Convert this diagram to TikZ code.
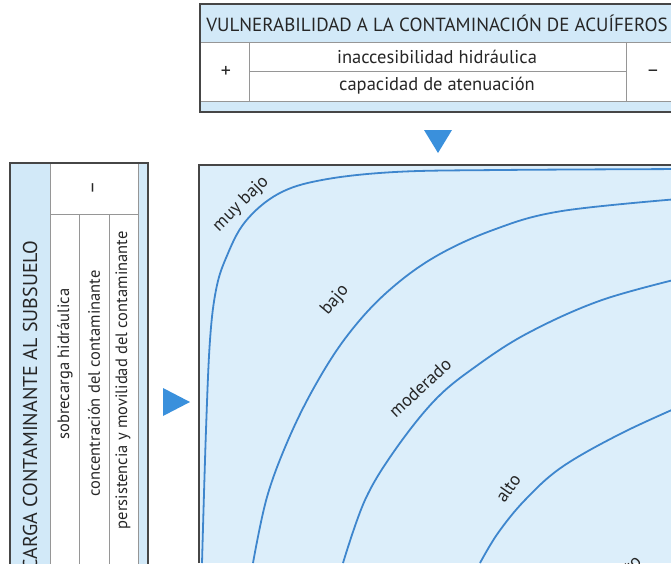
\documentclass[tikz,border=0pt]{standalone}
\usepackage{fontspec}
\setmainfont{PT Sans}
\usepackage{tikz}
\usepackage{xcolor}

\definecolor{fondo}{RGB}{220,238,250}
\definecolor{banda}{RGB}{210,233,248}
\definecolor{curva}{RGB}{62,134,205}
\definecolor{flecha}{RGB}{58,144,220}
\definecolor{borde}{RGB}{70,70,70}
\definecolor{linea}{RGB}{150,150,150}

\begin{document}
\begin{tikzpicture}[x=1pt,y=-1pt,
    marco/.style={draw=borde,line width=1.2pt},
    rejilla/.style={draw=linea,line width=0.8pt},
    iso/.style={draw=curva,line width=1.8pt},
    titulo/.style={font=\fontsize{19}{22}\selectfont,text=black!85},
    fila/.style={font=\fontsize{18.5}{22}\selectfont,text=black!85},
    columna/.style={font=\fontsize{16.5}{19}\selectfont,text=black!85,rotate=90,anchor=east},
    signo/.style={font=\fontsize{20}{22}\selectfont,text=black!85},
    rotulo/.style={font=\fontsize{18}{20}\selectfont,text=black!85,inner sep=1pt}]

	\useasboundingbox (0,0) rectangle (671,567);
	\clip (0,0) rectangle (671,563);

	% top table: vulnerability
	\fill[banda] (200,4) rectangle (690,42);
	\fill[banda] (200,101) rectangle (690,112);
	\draw[rejilla] (200,42) -- (690,42);
	\draw[rejilla] (200,101) -- (690,101);
	\draw[rejilla] (249,42) -- (249,101);
	\draw[rejilla] (626,42) -- (626,101);
	\draw[rejilla] (249,71) -- (626,71);
	\draw[marco] (690,4) -- (200,4) -- (200,112) -- (690,112);
	\node[titulo] (vuln) at (437,23) {VULNERABILIDAD A LA CONTAMINACIÓN DE ACUÍFEROS};
	\node[fila] (inacc) at (437,57) {inaccesibilidad hidráulica};
	\node[fila] (atenu) at (437,86) {capacidad de atenuación};
	\node[signo] (vmas) at (226,72) {+};
	\node[signo] (vmenos) at (653,73) {–};

	% arrow down
	\fill[flecha] (424,130) -- (452,130) -- (438,153) -- cycle;

	% left table: contaminant load
	\fill[banda] (10,163) rectangle (50,580);
	\fill[banda] (138,163) rectangle (148,580);
	\draw[rejilla] (50,163) -- (50,580);
	\draw[rejilla] (138,163) -- (138,580);
	\draw[rejilla] (50,214) -- (138,214);
	\draw[rejilla] (79,214) -- (79,580);
	\draw[rejilla] (109,214) -- (109,580);
	\draw[marco] (10,580) -- (10,163) -- (148,163) -- (148,580);
	\node[titulo,font=\fontsize{20}{22}\selectfont,rotate=90,anchor=east] (carga) at (30,237) {CARGA CONTAMINANTE AL SUBSUELO};
	\node[columna] (sobre) at (65,285) {sobrecarga hidráulica};
	\node[columna] (conc) at (94,267) {concentración del contaminante};
	\node[columna] (pers) at (123,228) {persistencia y movilidad del contaminante};
	\node[signo,rotate=90] (cmenos) at (95,188) {–};

	% arrow right
	\fill[flecha] (163,388) -- (163,416) -- (190,402) -- cycle;

	% chart
	\fill[fondo] (199,165) rectangle (690,563);
	\draw[marco] (199,563) -- (199,165) -- (690,165);

	% iso-lines
	\draw[iso] plot[smooth,tension=0.6] coordinates {(202,563) (206,430) (210,340) (216,290) (226,258) (245,222) (278,194) (322,180) (395,172) (500,170) (690,169)};
	\draw[iso] plot[smooth,tension=0.6] coordinates {(253,563) (267,497) (289,438) (316,384) (347,336) (385,294) (433,258) (493,230) (562,211) (690,198)};
	\draw[iso] plot[smooth,tension=0.6] coordinates {(343,563) (365,500) (395,450) (435,400) (475,367) (528,333) (602,300) (690,276)};
	\draw[iso] plot[smooth,tension=0.6] coordinates {(480,563) (498,533) (525,500) (562,467) (622,433) (690,402)};

	% labels
	\node[rotulo,rotate=45] (muybajo) at (241,204) {muy bajo};
	\node[rotulo,rotate=50] (bajo) at (335,300) {bajo};
	\node[rotulo,rotate=43] (moder) at (420,388) {moderado};
	\node[rotulo,rotate=55] (alto) at (508,488) {alto};
	\node[rotulo,rotate=45,anchor=base east] (muyalto) at (643,562) {muy alto};

\end{tikzpicture}
\end{document}
